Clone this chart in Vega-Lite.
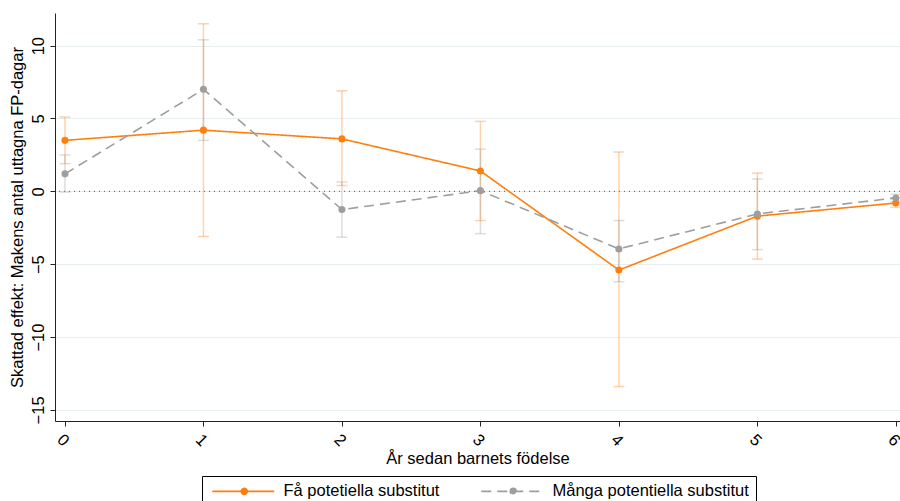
{
  "$schema": "https://vega.github.io/schema/vega-lite/v6.json",
  "autosize": "none",
  "width": 845,
  "height": 408,
  "padding": {"left": 55, "top": 13, "right": 0, "bottom": 80},
  "background": "white",
  "config": {
    "view": {"stroke": null},
    "font": "Liberation Sans",
    "axis": {"labelFont": "Liberation Sans", "titleFont": "Liberation Sans", "labelFontSize": 16.5, "titleFontSize": 16.5, "titleFontWeight": "normal", "labelColor": "#000", "titleColor": "#000", "domainColor": "#222", "tickColor": "#222", "tickSize": 5}
  },
  "data": {
    "values": [
      {"year": 0, "series": "Få potetiella substitut", "est": 3.5, "lo": 1.9, "hi": 5.1},
      {"year": 1, "series": "Få potetiella substitut", "est": 4.2, "lo": -3.1, "hi": 11.5},
      {"year": 2, "series": "Få potetiella substitut", "est": 3.6, "lo": 0.4, "hi": 6.9},
      {"year": 3, "series": "Få potetiella substitut", "est": 1.4, "lo": -2.0, "hi": 4.8},
      {"year": 4, "series": "Få potetiella substitut", "est": -5.4, "lo": -13.4, "hi": 2.7},
      {"year": 5, "series": "Få potetiella substitut", "est": -1.7, "lo": -4.65, "hi": 1.25},
      {"year": 6, "series": "Få potetiella substitut", "est": -0.8, "lo": -1.1, "hi": -0.45},
      {"year": 0, "series": "Många potentiella substitut", "est": 1.2, "lo": -0.05, "hi": 2.5},
      {"year": 1, "series": "Många potentiella substitut", "est": 7.0, "lo": 3.5, "hi": 10.4},
      {"year": 2, "series": "Många potentiella substitut", "est": -1.25, "lo": -3.15, "hi": 0.65},
      {"year": 3, "series": "Många potentiella substitut", "est": 0.05, "lo": -2.9, "hi": 2.9},
      {"year": 4, "series": "Många potentiella substitut", "est": -3.95, "lo": -6.2, "hi": -2.0},
      {"year": 5, "series": "Många potentiella substitut", "est": -1.55, "lo": -4.0, "hi": 0.85},
      {"year": 6, "series": "Många potentiella substitut", "est": -0.45, "lo": -0.7, "hi": -0.2}
    ]
  },
  "layer": [
    {
      "mark": {"type": "rule", "strokeDash": [1, 4], "color": "#555", "strokeWidth": 1},
      "data": {"values": [{"zero": 0}]},
      "encoding": {"y": {"field": "zero", "type": "quantitative"}}
    },
    {
      "mark": {"type": "errorbar", "ticks": {"size": 11, "opacity": 0.35}, "rule": {"opacity": 0.35}, "thickness": 1.5},
      "encoding": {
        "x": {"field": "year", "type": "quantitative", "scale": {"domain": [-0.072, 6.03], "nice": false, "zero": false},
          "axis": {"values": [0, 1, 2, 3, 4, 5, 6], "format": "d", "labelAngle": 45, "grid": false, "title": "År sedan barnets födelse", "titlePadding": 1, "labelPadding": 5}},
        "y": {"field": "lo", "type": "quantitative", "scale": {"domain": [-15.76, 12.24], "nice": false, "zero": false},
          "axis": {"values": [-15, -10, -5, 0, 5, 10], "labelAngle": -90, "grid": true, "gridColor": "#e6eef0", "gridWidth": 1.2, "title": "Skattad effekt: Makens antal uttagna FP-dagar", "titlePadding": 5, "labelPadding": 4}},
        "y2": {"field": "hi"},
        "color": {"field": "series", "type": "nominal"}
      }
    },
    {
      "mark": {"type": "line", "strokeWidth": 1.6},
      "encoding": {
        "x": {"field": "year", "type": "quantitative"},
        "y": {"field": "est", "type": "quantitative"},
        "color": {"field": "series", "type": "nominal", "scale": {"domain": ["Få potetiella substitut", "Många potentiella substitut"], "range": ["#ff7f0e", "#9e9e9e"]},
          "legend": {"orient": "none", "legendX": 147, "legendY": 463, "direction": "horizontal", "title": null, "strokeColor": "#000", "padding": 7, "labelFont": "Liberation Sans", "labelFontSize": 16.5, "labelColor": "#000", "labelLimit": 400, "symbolType": "M-1,0L11.4,0M4.8,0A0.6,0.6 0 1,1 6,0A0.6,0.6 0 1,1 4.8,0", "symbolSize": 100, "symbolStrokeWidth": 1.6, "labelOffset": 58, "columnPadding": 38,
            "encode": {"symbols": {"update": {"fill": {"scale": "color", "field": "value"}}}}}},
        "strokeDash": {"field": "series", "type": "nominal", "scale": {"domain": ["Få potetiella substitut", "Många potentiella substitut"], "range": [[1, 0], [10, 6]]}}
      }
    },
    {
      "mark": {"type": "point", "filled": true, "size": 50, "opacity": 1},
      "encoding": {
        "x": {"field": "year", "type": "quantitative"},
        "y": {"field": "est", "type": "quantitative"},
        "color": {"field": "series", "type": "nominal"}
      }
    }
  ]
}
